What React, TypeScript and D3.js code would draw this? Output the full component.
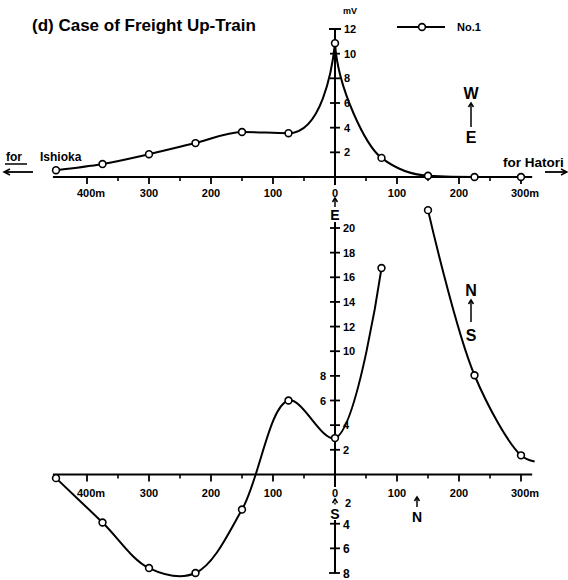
import React from "react";
import * as d3 from "d3";

const distances = [-450, -375, -300, -225, -150, -75, 0, 75, 150, 225, 300];
const weValues = [0.55, 1.05, 1.85, 2.75, 3.65, 3.55, 10.85, 1.55, 0.1, 0, 0];

const nsDistA = [-450, -375, -300, -225, -150, -75, 0, 75];
const nsValuesA = [-0.3, -3.9, -7.6, -8.0, -2.85, 6.0, 2.95, 16.75];
const nsDistB = [150, 225, 300];
const nsValuesB = [21.45, 8.05, 1.55];
const nsTailDist = [322];
const nsTailValues = [1.05];

const xMajorTicks = [-400, -300, -200, -100, 100, 200, 300];
const xMinorTicks = [-350, -250, -150, -50, 50, 150, 250];
const xTickLabels: Record<string, string> = {
  "-400": "400m", "-300": "300", "-200": "200", "-100": "100",
  "0": "0", "100": "100", "200": "200", "300": "300m",
};
const weTicks = [2, 4, 6, 8, 10, 12];
const nsPosTicks = [2, 4, 6, 8, 10, 12, 14, 16, 18, 20];
const nsNegTicks = [-4, -6, -8];

const FONT = "'Liberation Sans', Arial, sans-serif";

// Monotone cubic curve that renders sharp, prominent peaks as narrow, steep tips
class PeakCurve {
  _ctx: any;
  _xs: number[] = [];
  _ys: number[] = [];
  constructor(ctx: any) {
    this._ctx = ctx;
  }
  areaStart() {}
  areaEnd() {}
  lineStart() {
    this._xs = [];
    this._ys = [];
  }
  point(x: number, y: number) {
    this._xs.push(+x);
    this._ys.push(+y);
  }
  lineEnd() {
    const xs = this._xs, ys = this._ys, n = xs.length, c = this._ctx;
    if (!n) return;
    c.moveTo(xs[0], ys[0]);
    if (n === 1) return;
    const s: number[] = [];
    for (let i = 0; i < n - 1; i++) s.push((ys[i + 1] - ys[i]) / (xs[i + 1] - xs[i]));
    const t: number[] = new Array(n).fill(0);
    const cusp: boolean[] = new Array(n).fill(false);
    for (let i = 1; i < n - 1; i++) {
      const s0 = s[i - 1], s1 = s[i];
      const h0 = xs[i] - xs[i - 1], h1 = xs[i + 1] - xs[i];
      const p = (s0 * h1 + s1 * h0) / (h0 + h1);
      t[i] = (Math.sign(s0) + Math.sign(s1)) * Math.min(Math.abs(s0), Math.abs(s1), 0.5 * Math.abs(p)) || 0;
      const d0 = ys[i - 1] - ys[i], d1 = ys[i + 1] - ys[i];
      if (d0 > 60 && d1 > 60) cusp[i] = true;
    }
    t[0] = (3 * s[0] - t[1]) / 2;
    t[n - 1] = (3 * s[n - 2] - t[n - 2]) / 2;
    if (n === 2) { t[0] = s[0]; t[1] = s[0]; }
    for (let i = 0; i < n - 1; i++) {
      const h = xs[i + 1] - xs[i];
      let c1x = xs[i] + h / 3, c1y = ys[i] + (t[i] * h) / 3;
      let c2x = xs[i + 1] - h / 3, c2y = ys[i + 1] - (t[i + 1] * h) / 3;
      if (cusp[i + 1]) {
        c1x = xs[i] + 0.7 * h;
        c1y = ys[i] + t[i] * 0.7 * h;
        c2x = xs[i + 1] - 0.06 * h;
        c2y = ys[i + 1] + 0.3 * (ys[i] - ys[i + 1]);
      }
      if (cusp[i]) {
        c1x = xs[i] + 0.06 * h;
        c1y = ys[i] + 0.4 * (ys[i + 1] - ys[i]);
      }
      c.bezierCurveTo(c1x, c1y, c2x, c2y, xs[i + 1], ys[i + 1]);
    }
  }
}
const curvePeak = (ctx: any) => new PeakCurve(ctx);

export default function App() {
  const x = d3.scaleLinear().domain([-450, 300]).range([56, 521]);
  const yTop = d3.scaleLinear().domain([0, 12]).range([177, 29]);
  const yBot = d3.scaleLinear().domain([-8, 20]).range([573, 228]);
  const x0 = x(0);

  const topLine = d3
    .line<[number, number]>()
    .x((d) => x(d[0]))
    .y((d) => yTop(d[1]))
    .curve(curvePeak as any);
  const botLine = d3
    .line<[number, number]>()
    .x((d) => x(d[0]))
    .y((d) => yBot(d[1]))
    .curve(d3.curveCatmullRom.alpha(0.5));

  const topPts: [number, number][] = distances.map((d, i) => [d, weValues[i]]);
  const botA: [number, number][] = nsDistA.map((d, i) => [d, nsValuesA[i]]);
  const botB: [number, number][] = nsDistB.map((d, i) => [d, nsValuesB[i]]);
  const botBTail: [number, number][] = [
    ...botB,
    ...nsTailDist.map((d, i) => [d, nsTailValues[i]] as [number, number]),
  ];

  const marker = (cx: number, cy: number, k: string) => (
    <circle key={k} cx={cx} cy={cy} r={3.4} fill="#fff" stroke="#000" strokeWidth={1.6} />
  );

  const xAxis = (y0: number, labelY: number, key: string) => (
    <g key={key}>
      <line x1={x(-455)} x2={x(318)} y1={y0} y2={y0} stroke="#000" strokeWidth={2} />
      {xMajorTicks.map((t) => (
        <line key={"M" + t} x1={x(t)} x2={x(t)} y1={y0} y2={y0 + 7} stroke="#000" strokeWidth={1.8} />
      ))}
      {xMinorTicks.map((t) => (
        <line key={"m" + t} x1={x(t)} x2={x(t)} y1={y0} y2={y0 + 4} stroke="#000" strokeWidth={1.6} />
      ))}
      {Object.keys(xTickLabels).map((k) => {
        const v = +k;
        const lab = xTickLabels[k];
        const shift = lab.endsWith("m") ? 4 : 0;
        return (
          <text key={"l" + k} x={x(v) + shift} y={labelY} textAnchor="middle" fontSize={11} fontWeight="bold" fontFamily={FONT}>
            {lab}
          </text>
        );
      })}
    </g>
  );

  const arrowUp = (cx: number, yTopA: number, yBotA: number, k: string, dash?: string) => (
    <g key={k}>
      <line x1={cx} x2={cx} y1={yTopA} y2={yBotA} stroke="#000" strokeWidth={1.5} strokeDasharray={dash} />
      <path d={`M${cx - 2.5},${yTopA + 4} L${cx},${yTopA} L${cx + 2.5},${yTopA + 4}`} fill="none" stroke="#000" strokeWidth={1.5} />
    </g>
  );

  return (
    <svg width={568} height={580} style={{ display: "block", position: "absolute", left: 0, top: 0 }}>
      <rect width={568} height={580} fill="#fff" />
      {/* Title */}
      <text x={32} y={31} fontSize={17} fontWeight="bold" fontFamily={FONT}>
        (d) Case of Freight Up-Train
      </text>
      {/* Legend */}
      <line x1={397} x2={445} y1={27} y2={27} stroke="#000" strokeWidth={2} />
      {marker(422, 27, "leg")}
      <text x={457} y={31} fontSize={11} fontWeight="bold" fontFamily={FONT}>No.1</text>

      {/* Top y axis */}
      <text x={343} y={14} fontSize={9} fontWeight="bold" fontFamily={FONT}>mV</text>
      <line x1={x0} x2={x0} y1={yTop(12)} y2={185} stroke="#000" strokeWidth={2} />
      <line x1={x0 - 6} x2={x0 + 6} y1={yTop(12)} y2={yTop(12)} stroke="#000" strokeWidth={2} />
      {weTicks.filter((t) => t < 12).map((t) => (
        <line key={"wt" + t} x1={x0 - 5} x2={x0 + 5} y1={yTop(t)} y2={yTop(t)} stroke="#000" strokeWidth={1.8} />
      ))}
      {weTicks.map((t) => (
        <text key={"wl" + t} x={x0 + 9} y={yTop(t) + 4} fontSize={11} fontWeight="bold" fontFamily={FONT}>{t}</text>
      ))}

      {/* Top x axis */}
      {xAxis(yTop(0), 197, "topx")}

      {/* Between panels: E arrow */}
      {arrowUp(x0, 198, 207, "eArrow")}
      <text x={x0} y={220} textAnchor="middle" fontSize={14} fontWeight="bold" fontFamily={FONT}>E</text>

      {/* Bottom y axis */}
      <line x1={x0} x2={x0} y1={222} y2={487} stroke="#000" strokeWidth={2} />
      {nsPosTicks.map((t) => (
        <line key={"nt" + t} x1={x0 - 5} x2={x0 + 5} y1={yBot(t)} y2={yBot(t)} stroke="#000" strokeWidth={1.8} />
      ))}
      {nsPosTicks.map((t) => {
        const left = t === 6 || t === 8;
        return (
          <text key={"nl" + t} x={left ? x0 - 9 : x0 + 8} y={yBot(t) + 4} textAnchor={left ? "end" : "start"} fontSize={11} fontWeight="bold" fontFamily={FONT}>
            {t}
          </text>
        );
      })}
      {arrowUp(x0, 499, 506, "sArrow", "2 1.5")}
      <text x={x0 + 10} y={507} fontSize={11} fontWeight="bold" fontFamily={FONT}>2</text>
      <text x={x0} y={519} textAnchor="middle" fontSize={14} fontWeight="bold" fontFamily={FONT}>S</text>
      <line x1={x0} x2={x0} y1={520} y2={yBot(-8)} stroke="#000" strokeWidth={2} />
      {nsNegTicks.map((t) => (
        <line key={"st" + t} x1={x0 - (t === -8 ? 6 : 5)} x2={x0 + 5} y1={yBot(t)} y2={yBot(t)} stroke="#000" strokeWidth={1.8} />
      ))}
      {nsNegTicks.map((t) => (
        <text key={"sl" + t} x={x0 + 8} y={yBot(t) + 5} fontSize={12} fontWeight="bold" fontFamily={FONT}>{-t}</text>
      ))}

      {/* Bottom x axis */}
      {xAxis(yBot(0), 497, "botx")}

      {/* Direction labels */}
      <text x={471} y={99} textAnchor="middle" fontSize={16} fontWeight="bold" fontFamily={FONT}>W</text>
      {arrowUp(471, 103, 127, "wArrow")}
      <text x={471} y={143} textAnchor="middle" fontSize={16} fontWeight="bold" fontFamily={FONT}>E</text>
      <text x={471} y={296} textAnchor="middle" fontSize={16} fontWeight="bold" fontFamily={FONT}>N</text>
      {arrowUp(471, 300, 322, "nArrow")}
      <text x={471} y={341} textAnchor="middle" fontSize={16} fontWeight="bold" fontFamily={FONT}>S</text>
      {arrowUp(417, 497, 507, "nArrow2")}
      <text x={417} y={522} textAnchor="middle" fontSize={14} fontWeight="bold" fontFamily={FONT}>N</text>

      {/* for Ishioka / for Hatori */}
      <text x={6} y={161} fontSize={12} fontWeight="bold" fontFamily={FONT}>for</text>
      <line x1={5} x2={27} y1={164} y2={164} stroke="#000" strokeWidth={1.5} />
      <text x={40} y={161} fontSize={12} fontWeight="bold" fontFamily={FONT}>Ishioka</text>
      <line x1={5} x2={33} y1={172} y2={172} stroke="#000" strokeWidth={1.8} />
      <path d="M10,169 L4,172 L10,175" fill="none" stroke="#000" strokeWidth={1.5} />

      <text x={503} y={167} fontSize={13.5} fontWeight="bold" fontFamily={FONT}>for Hatori</text>
      <line x1={545} x2={566} y1={172} y2={172} stroke="#000" strokeWidth={1.8} />
      <path d="M561,169 L567,172 L561,175" fill="none" stroke="#000" strokeWidth={1.5} />

      {/* Curves */}
      <path d={topLine(topPts) || ""} fill="none" stroke="#000" strokeWidth={2} strokeLinejoin="round" />
      <path d={botLine(botA) || ""} fill="none" stroke="#000" strokeWidth={2} />
      <path d={botLine(botBTail) || ""} fill="none" stroke="#000" strokeWidth={2} />

      {/* Markers */}
      {topPts.map((p, i) => marker(x(p[0]), yTop(p[1]), "tp" + i))}
      {botA.map((p, i) => marker(x(p[0]), yBot(p[1]), "ba" + i))}
      {botB.map((p, i) => marker(x(p[0]), yBot(p[1]), "bb" + i))}
    </svg>
  );
}
